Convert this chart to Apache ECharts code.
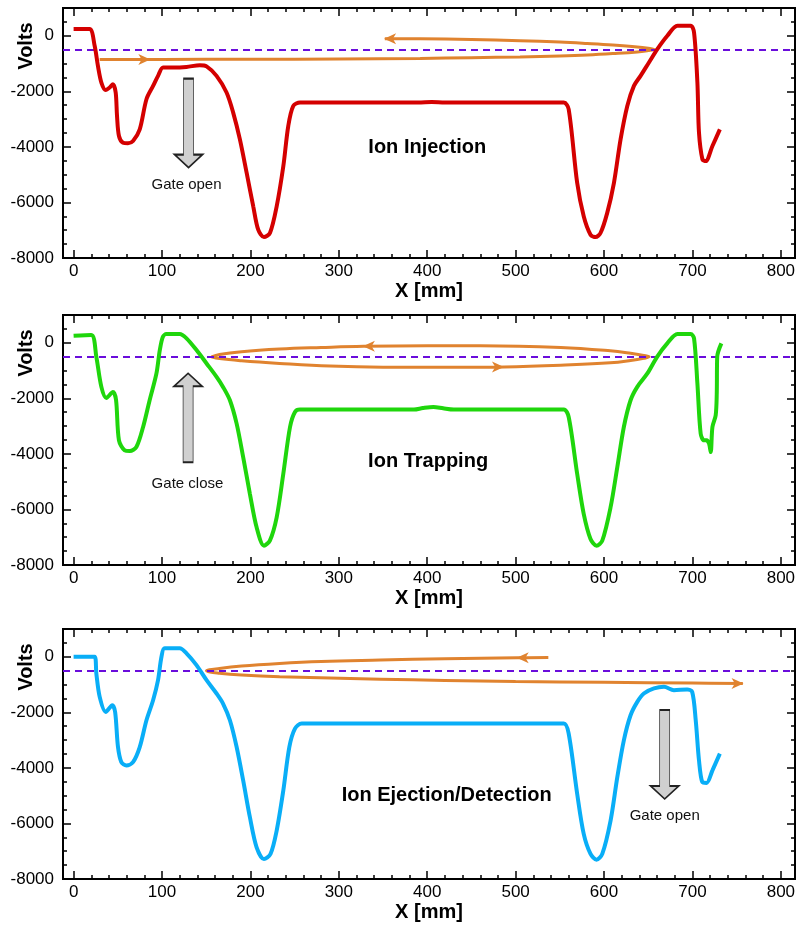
<!DOCTYPE html>
<html>
<head>
<meta charset="utf-8">
<title>Ion trap potential</title>
<script src="https://cdn.jsdelivr.net/npm/echarts@6/dist/echarts.min.js"></script>
<style>
  html, body { margin: 0; padding: 0; background: #fff; }
  #chart { width: 799px; height: 926px; }
</style>
</head>
<body>
<div id="chart"></div>
<script>
// potential along the axis (x in mm, volts)
const injX = [0, 18, 23.8, 27.5, 31.4, 36.3, 40.8, 44.5, 47.6, 49.1, 51.3, 55.9, 61.5, 67.2, 74.8, 82.4, 89.9, 95.5, 101.2, 112.5, 127.7, 142.8, 150.4, 161.7, 173, 180.5, 188.1, 195.7, 203.2, 208.8, 215.3, 222.1, 229.7, 237.2, 242.8, 248.5, 256.1, 300, 390, 405, 420, 500, 554.5, 560, 569.6, 577, 584.7, 590.4, 596, 603.6, 611.2, 618.7, 626.3, 633.8, 641.3, 650.8, 660.3, 671.6, 683, 698, 701.8, 705.6, 707.4, 711.3, 715, 722.6, 731];
const injV = [242, 242, -361, -1083, -1683, -1950, -1863, -1743, -2043, -2888, -3610, -3850, -3870, -3790, -3370, -2285, -1805, -1444, -1141, -1141, -1120, -1058, -1100, -1444, -2043, -2765, -3730, -4930, -6140, -6980, -7245, -7100, -6140, -4700, -3250, -2525, -2405, -2400, -2400, -2380, -2400, -2400, -2405, -2646, -5292, -6498, -7159, -7245, -7100, -6375, -5292, -3729, -2527, -1805, -1444, -960, -480, 0, 361, 361, 120, -1683, -3490, -4452, -4512, -3970, -3370];

const trapX = [0, 20, 25.7, 31.4, 37, 44.5, 48, 51.3, 57.8, 63.5, 71, 78.6, 86, 93.7, 97.5, 101, 105, 120, 127.7, 139, 150.4, 161.7, 169, 176.8, 184.4, 191.8, 199.4, 207, 215.3, 222, 229.7, 237.2, 244.8, 250.4, 256, 300, 385, 395, 407, 418, 430, 500, 554.5, 560, 569.6, 577, 584.7, 591.5, 598, 607.4, 615, 622.4, 630, 637.6, 649, 660, 671.5, 683, 698, 701.8, 705.6, 709.3, 713, 716, 718.8, 720.7, 722.6, 726.3, 727.5, 728, 732.7];
const trapV = [250, 278, -505, -1588, -1985, -1770, -2060, -3513, -3874, -3900, -3755, -3032, -2069, -1105, -264, 217, 314, 314, 159, -264, -744, -1227, -1588, -2069, -2910, -4115, -5437, -6643, -7303, -7123, -6282, -4715, -3032, -2491, -2404, -2404, -2404, -2350, -2310, -2360, -2404, -2404, -2404, -2671, -4715, -6159, -7061, -7303, -7123, -5920, -4476, -3032, -2069, -1588, -1105, -505, -22, 314, 314, 159, -1466, -3271, -3513, -3513, -3632, -3935, -3032, -2610, -1827, -505, -22];

const ejecX = [0, 23.8, 25.7, 29.5, 36.3, 43.8, 47, 50.2, 54, 59.7, 67.2, 74.8, 82.4, 89.9, 95.5, 99.4, 103, 120, 127.7, 139, 150.4, 161.7, 169, 176.8, 184.4, 191.8, 199.4, 207, 215.3, 222.7, 229.7, 237.2, 244, 250.4, 258, 300, 400, 500, 554.5, 560, 569.6, 577, 584.7, 591.5, 598, 607.4, 615, 622.4, 630, 637.6, 645, 656.5, 667.8, 679, 694, 699.7, 703.7, 707.4, 711.2, 716, 722.6, 731];
const ejecV = [0, 0, -600, -1444, -1985, -1744, -2000, -3249, -3790, -3910, -3790, -3249, -2285, -1563, -841, 0, 303, 303, 123, -300, -841, -1322, -1683, -2285, -3249, -4451, -5776, -6859, -7280, -7100, -6256, -4812, -3249, -2585, -2404, -2404, -2404, -2404, -2404, -2766, -4932, -6375, -7097, -7303, -7097, -5895, -4332, -3007, -2105, -1624, -1322, -1141, -1083, -1202, -1180, -1263, -2285, -3730, -4512, -4540, -4090, -3487];

// ion path (orange), drawn in the same axes
const injPathX = [352, 392, 450, 505, 550, 581, 610, 637.6, 650, 656.5, 650, 637.6, 610, 581, 550, 505, 450, 392, 300, 200, 100, 29.5];
const injPathV = [-105, -110, -130, -175, -225, -275, -330, -400, -450, -490, -530, -580, -640, -690, -725, -760, -790, -815, -835, -845, -850, -850];
const trapPathX = [156, 165, 190, 233, 280, 328, 400, 460, 551, 607, 630, 645, 651, 645, 630, 607, 551, 487, 437, 350, 290, 233, 190, 165, 156];
const trapPathV = [-505, -420, -320, -227, -170, -125, -105, -105, -166, -289, -380, -460, -505, -560, -640, -722, -805, -870, -885, -880, -840, -744, -650, -570, -505];
const ejecPathX = [537, 502, 420, 347, 280, 233, 190, 165, 150.3, 165, 190, 233, 347, 420, 500, 600, 700, 757];
const ejecPathV = [-30, -36, -70, -119, -170, -238, -330, -420, -505, -590, -660, -722, -805, -850, -890, -920, -945, -960];

// arrow heads on the path: [x, volts, direction deg]
const injHeads = [[80, -850, 0], [358, -105, 180]];
const trapHeads = [[334, -122, 180], [480, -875, 0]];
const ejecHeads = [[508, -36, 180], [751, -958, 0]];

// gate arrows: [x, volts, direction deg], and their captions
const gateArrows = [[130, -3144, 0], [129.5, -2700, 180], [668.6, -3518, 0]];
const gateText = ['Gate open', 'Gate close', 'Gate open'];
const gateTextPos = [[127.7, -5350], [128.8, -5076], [668.6, -5715]];

const stageNames = ['Ion Injection', 'Ion Trapping', 'Ion Ejection/Detection'];
const stagePos = [[400, -4030], [401, -4280], [422, -4990]];

const xMajor = [0, 100, 200, 300, 400, 500, 600, 700, 800];
const yMajor = [-8000, -6000, -4000, -2000, 0];
const xMinor = [];
for (let v = 0; v <= 800; v += 20) xMinor.push(v);
const yMinor = [];
for (let v = -8000; v <= 1000; v += 500) yMinor.push(v);

const gateLevel = -500;
const colors = ['#d40000', '#1fd60c', '#09aef7'];
const orange = '#e0832f';
const purple = '#6a0ddb';
const FONT = '"Liberation Sans", Arial, Helvetica, sans-serif';
const panelTops = [8, 315, 629];

const curves = [[injX, injV], [trapX, trapV], [ejecX, ejecV]];
const paths = [[injPathX, injPathV], [trapPathX, trapPathV], [ejecPathX, ejecPathV]];
const heads = [injHeads, trapHeads, ejecHeads];

const pair = (xs, vs) => xs.map((x, i) => [x, vs[i]]);

const grids = [], xAxes = [], yAxes = [], series = [], graphics = [];

panelTops.forEach((top, g) => {
    grids.push({
        left: 63, right: 4, top: top, height: 250,
        show: true, borderColor: '#000', borderWidth: 2, backgroundColor: 'transparent'
    });

    const tick = (vals, len) => ({ show: true, inside: true, length: len, customValues: vals, lineStyle: { color: '#000', width: 1.5 } });

    const xBase = {
        gridIndex: g, type: 'value', min: -12, max: 816,
        axisLine: { show: false, onZero: false }, splitLine: { show: false }
    };
    xAxes.push(Object.assign({}, xBase, {
        position: 'bottom',
        axisTick: tick(xMajor, 8),
        axisLabel: { customValues: xMajor, fontSize: 17, color: '#000', margin: 5, fontFamily: FONT, formatter: v => String(v) },
        name: 'X [mm]', nameLocation: 'middle', nameGap: 23,
        nameTextStyle: { fontSize: 20, fontWeight: 'bold', color: '#000', fontFamily: FONT }
    }));
    xAxes.push(Object.assign({}, xBase, { position: 'bottom', axisTick: tick(xMinor, 4), axisLabel: { show: false } }));
    xAxes.push(Object.assign({}, xBase, { position: 'top', axisTick: tick(xMajor, 8), axisLabel: { show: false } }));
    xAxes.push(Object.assign({}, xBase, { position: 'top', axisTick: tick(xMinor, 4), axisLabel: { show: false } }));

    const yBase = {
        gridIndex: g, type: 'value', min: -8000, max: 1000,
        axisLine: { show: false, onZero: false }, splitLine: { show: false }
    };
    yAxes.push(Object.assign({}, yBase, {
        position: 'left',
        axisTick: tick(yMajor, 8),
        axisLabel: { customValues: yMajor, fontSize: 17, color: '#000', margin: 9, fontFamily: FONT, formatter: v => String(v) }
    }));
    yAxes.push(Object.assign({}, yBase, { position: 'left', axisTick: tick(yMinor, 4), axisLabel: { show: false } }));
    yAxes.push(Object.assign({}, yBase, { position: 'right', axisTick: tick(yMajor, 8), axisLabel: { show: false } }));
    yAxes.push(Object.assign({}, yBase, { position: 'right', axisTick: tick(yMinor, 4), axisLabel: { show: false } }));

    const ax = { xAxisIndex: g * 4, yAxisIndex: g * 4 };

    // ion path + gate level
    series.push(Object.assign({
        type: 'line', data: pair(paths[g][0], paths[g][1]),
        symbol: 'none', smooth: 0.4, z: 3, silent: true,
        lineStyle: { color: orange, width: 3 },
        markLine: {
            silent: true, symbol: 'none', label: { show: false },
            lineStyle: { color: purple, type: [7, 5], width: 1.8, opacity: 1 },
            data: [{ yAxis: gateLevel }]
        }
    }, ax));

    series.push(Object.assign({
        type: 'scatter', z: 4, silent: true,
        symbol: 'path://M0,0 L11,5 L0,10 L3,5 Z', symbolSize: [12, 11],
        itemStyle: { color: orange, opacity: 1 },
        data: heads[g].map(h => ({ value: [h[0], h[1]], symbolRotate: h[2] }))
    }, ax));

    // gate arrow
    series.push(Object.assign({
        type: 'scatter', z: 4, silent: true,
        symbol: 'path://M9,0 L19,0 L19,76 L28,76 L14,89 L0,76 L9,76 Z', symbolSize: [28, 89],
        itemStyle: { color: '#d0d0d0', borderColor: '#222', borderWidth: 1.2, opacity: 1 },
        data: [{ value: [gateArrows[g][0], gateArrows[g][1]], symbolRotate: gateArrows[g][2] }]
    }, ax));

    // text annotations
    series.push(Object.assign({
        type: 'scatter', z: 6, silent: true, symbolSize: 0,
        itemStyle: { opacity: 1 },
        data: [
            { value: gateTextPos[g], name: gateText[g], label: { fontSize: 15, color: '#111', fontWeight: 'normal' } },
            { value: stagePos[g], name: stageNames[g], label: { fontSize: 20, color: '#000', fontWeight: 'bold' } }
        ],
        label: {
            show: true, position: [0, 0], align: 'center', verticalAlign: 'middle',
            formatter: '{b}', fontFamily: FONT, textBorderWidth: 0, opacity: 1
        }
    }, ax));

    // potential curve
    series.push(Object.assign({
        type: 'line', data: pair(curves[g][0], curves[g][1]),
        symbol: 'none', smooth: 0.3, z: 5, silent: true,
        lineStyle: { color: colors[g], width: 4 }
    }, ax));

    graphics.push({
        type: 'text', x: 26, y: top + 38, rotation: Math.PI / 2,
        style: { text: 'Volts', font: 'bold 20px ' + FONT, fill: '#000', textAlign: 'center', textVerticalAlign: 'middle' }
    });
});

const chart = echarts.init(document.getElementById('chart'));
chart.setOption({
    animation: false,
    backgroundColor: '#fff',
    grid: grids,
    xAxis: xAxes,
    yAxis: yAxes,
    series: series,
    graphic: graphics
});
window.addEventListener('resize', () => chart.resize());
</script>
</body>
</html>
